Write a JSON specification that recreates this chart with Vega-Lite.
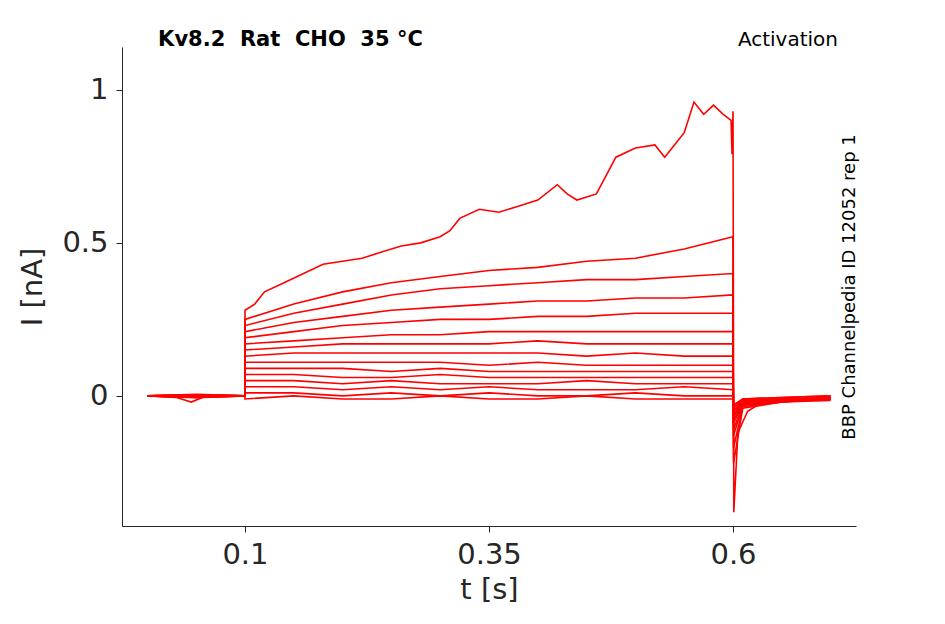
{
  "$schema": "https://vega.github.io/schema/vega-lite/v6.json",
  "width": 734,
  "height": 479,
  "autosize": "none",
  "padding": {"left": 122, "top": 47, "right": 89, "bottom": 98},
  "background": "white",
  "config": {
    "view": {"stroke": null},
    "font": "DejaVu Sans",
    "axis": {
      "domainColor": "#262626", "tickColor": "#262626", "labelColor": "#262626", "titleColor": "#262626",
      "labelFontSize": 29, "titleFontSize": 29, "titleFontWeight": "normal", "grid": false, "tickSize": 6, "labelPadding": 8, "format": "~g"
    }
  },
  "layer": [
    {
      "data": {"values": [
        {"t": 0, "a": 0, "b": 0, "c": 0, "d": 0, "e": 0, "f": 0, "g": 0, "h": 0, "i": 0, "j": 0, "k": 0, "l": 0, "m": 0, "n": 0},
        {"t": 0.05, "a": -0.004, "b": 0.003, "c": -0.002, "d": 0.004, "e": -0.005, "f": 0.002, "g": -0.003, "h": 0.005, "i": -0.002, "j": 0.001, "k": -0.006, "l": 0.003, "m": -0.002, "n": 0.0},
        {"t": 0.0999, "a": 0, "b": 0, "c": 0, "d": 0, "e": 0, "f": 0, "g": 0, "h": 0, "i": 0, "j": 0, "k": 0, "l": 0, "m": 0, "n": 0},
        {"t": 0.1, "a": 0.25, "b": 0.23, "c": 0.21, "d": 0.19, "e": 0.17, "f": 0.15, "g": 0.13, "h": 0.11, "i": 0.09, "j": 0.07, "k": 0.05, "l": 0.03, "m": 0.01, "n": -0.01},
        {"t": 0.15, "a": 0.30, "b": 0.27, "c": 0.24, "d": 0.21, "e": 0.18, "f": 0.16, "g": 0.14, "h": 0.11, "i": 0.09, "j": 0.07, "k": 0.05, "l": 0.03, "m": 0.01, "n": 0.0},
        {"t": 0.2, "a": 0.34, "b": 0.30, "c": 0.26, "d": 0.23, "e": 0.19, "f": 0.17, "g": 0.14, "h": 0.11, "i": 0.09, "j": 0.06, "k": 0.04, "l": 0.02, "m": 0.0, "n": -0.01},
        {"t": 0.25, "a": 0.37, "b": 0.33, "c": 0.28, "d": 0.24, "e": 0.20, "f": 0.17, "g": 0.14, "h": 0.11, "i": 0.08, "j": 0.06, "k": 0.05, "l": 0.03, "m": 0.01, "n": -0.01},
        {"t": 0.3, "a": 0.39, "b": 0.35, "c": 0.29, "d": 0.25, "e": 0.20, "f": 0.17, "g": 0.14, "h": 0.11, "i": 0.09, "j": 0.07, "k": 0.04, "l": 0.02, "m": 0.0, "n": 0.0},
        {"t": 0.35, "a": 0.41, "b": 0.36, "c": 0.30, "d": 0.25, "e": 0.21, "f": 0.17, "g": 0.14, "h": 0.10, "i": 0.08, "j": 0.06, "k": 0.04, "l": 0.03, "m": 0.01, "n": -0.01},
        {"t": 0.4, "a": 0.42, "b": 0.37, "c": 0.31, "d": 0.26, "e": 0.21, "f": 0.18, "g": 0.14, "h": 0.11, "i": 0.08, "j": 0.06, "k": 0.04, "l": 0.02, "m": 0.0, "n": -0.01},
        {"t": 0.45, "a": 0.44, "b": 0.38, "c": 0.31, "d": 0.26, "e": 0.21, "f": 0.17, "g": 0.13, "h": 0.10, "i": 0.08, "j": 0.06, "k": 0.05, "l": 0.02, "m": 0.0, "n": 0.0},
        {"t": 0.5, "a": 0.45, "b": 0.38, "c": 0.32, "d": 0.27, "e": 0.21, "f": 0.17, "g": 0.14, "h": 0.10, "i": 0.08, "j": 0.06, "k": 0.04, "l": 0.02, "m": 0.01, "n": -0.01},
        {"t": 0.55, "a": 0.48, "b": 0.39, "c": 0.32, "d": 0.27, "e": 0.21, "f": 0.17, "g": 0.13, "h": 0.10, "i": 0.08, "j": 0.06, "k": 0.04, "l": 0.03, "m": 0.0, "n": -0.01},
        {"t": 0.5999, "a": 0.52, "b": 0.40, "c": 0.33, "d": 0.27, "e": 0.21, "f": 0.17, "g": 0.13, "h": 0.10, "i": 0.08, "j": 0.06, "k": 0.04, "l": 0.02, "m": 0.0, "n": -0.01},
        {"t": 0.6005, "a": -0.22, "b": -0.17, "c": -0.13, "d": -0.11, "e": -0.09, "f": -0.08, "g": -0.07, "h": -0.06, "i": -0.05, "j": -0.05, "k": -0.04, "l": -0.04, "m": -0.03, "n": -0.03},
        {"t": 0.61, "a": -0.04, "b": -0.035, "c": -0.03, "d": -0.03, "e": -0.025, "f": -0.025, "g": -0.02, "h": -0.02, "i": -0.02, "j": -0.015, "k": -0.015, "l": -0.01, "m": -0.01, "n": -0.01},
        {"t": 0.65, "a": -0.02, "b": -0.02, "c": -0.015, "d": -0.02, "e": -0.01, "f": -0.015, "g": -0.01, "h": -0.02, "i": -0.01, "j": -0.01, "k": -0.015, "l": -0.005, "m": -0.01, "n": -0.005},
        {"t": 0.7, "a": -0.01, "b": -0.015, "c": -0.01, "d": -0.01, "e": -0.005, "f": -0.01, "g": -0.01, "h": -0.005, "i": -0.01, "j": -0.005, "k": -0.01, "l": 0.0, "m": -0.005, "n": 0.0}
      ]},
      "transform": [{"fold": ["a","b","c","d","e","f","g","h","i","j","k","l","m","n"], "as": ["trace", "current"]}],
      "mark": {"type": "line", "color": "#ff0000", "strokeWidth": 1.6},
      "encoding": {
        "x": {"field": "t", "type": "quantitative", "title": "t [s]",
          "scale": {"domain": [-0.026, 0.726], "nice": false},
          "axis": {"values": [0.1, 0.35, 0.6], "titlePadding": 6}},
        "y": {"field": "current", "type": "quantitative", "title": "I [nA]",
          "scale": {"domain": [-0.425, 1.14], "nice": false},
          "axis": {"values": [0, 0.5, 1], "titlePadding": 14}},
        "detail": {"field": "trace"},
        "order": {"field": "t"}
      }
    },
    {
      "data": {"values": [
        {"t": 0, "i": 0}, {"t": 0.03, "i": -0.005}, {"t": 0.045, "i": -0.02}, {"t": 0.06, "i": 0.0}, {"t": 0.0999, "i": 0.0},
        {"t": 0.1, "i": 0.28}, {"t": 0.11, "i": 0.30}, {"t": 0.12, "i": 0.34}, {"t": 0.14, "i": 0.37}, {"t": 0.16, "i": 0.40},
        {"t": 0.18, "i": 0.43}, {"t": 0.2, "i": 0.44}, {"t": 0.22, "i": 0.45}, {"t": 0.24, "i": 0.47}, {"t": 0.26, "i": 0.49},
        {"t": 0.28, "i": 0.50}, {"t": 0.3, "i": 0.52}, {"t": 0.31, "i": 0.54}, {"t": 0.32, "i": 0.58}, {"t": 0.34, "i": 0.61},
        {"t": 0.36, "i": 0.60}, {"t": 0.38, "i": 0.62}, {"t": 0.4, "i": 0.64}, {"t": 0.42, "i": 0.69}, {"t": 0.43, "i": 0.66},
        {"t": 0.44, "i": 0.64}, {"t": 0.46, "i": 0.66}, {"t": 0.47, "i": 0.72}, {"t": 0.48, "i": 0.78}, {"t": 0.5, "i": 0.81},
        {"t": 0.52, "i": 0.82}, {"t": 0.53, "i": 0.78}, {"t": 0.54, "i": 0.82}, {"t": 0.55, "i": 0.86}, {"t": 0.56, "i": 0.96},
        {"t": 0.57, "i": 0.92}, {"t": 0.58, "i": 0.95}, {"t": 0.59, "i": 0.92}, {"t": 0.598, "i": 0.90}, {"t": 0.599, "i": 0.79},
        {"t": 0.6, "i": 0.93}, {"t": 0.6008, "i": -0.38}, {"t": 0.605, "i": -0.12}, {"t": 0.615, "i": -0.05}, {"t": 0.63, "i": -0.02},
        {"t": 0.7, "i": -0.01}
      ]},
      "mark": {"type": "line", "color": "#ff0000", "strokeWidth": 1.6},
      "encoding": {
        "x": {"field": "t", "type": "quantitative"},
        "y": {"field": "i", "type": "quantitative"},
        "order": {"field": "t"}
      }
    },
    {
      "data": {"values": [{"x": 0.011, "y": 1.163, "label": "Kv8.2\u00a0\u00a0Rat\u00a0\u00a0CHO\u00a0\u00a035 °C"}]},
      "mark": {"type": "text", "fontSize": 21, "fontWeight": "bold", "color": "black", "align": "left", "baseline": "middle", "clip": false},
      "encoding": {
        "x": {"field": "x", "type": "quantitative"},
        "y": {"field": "y", "type": "quantitative"},
        "text": {"field": "label"}
      }
    },
    {
      "data": {"values": [{"x": 0.7076, "y": 1.163, "label": "Activation"}]},
      "mark": {"type": "text", "fontSize": 20, "color": "black", "align": "right", "baseline": "middle", "clip": false},
      "encoding": {
        "x": {"field": "x", "type": "quantitative"},
        "y": {"field": "y", "type": "quantitative"},
        "text": {"field": "label"}
      }
    },
    {
      "data": {"values": [{"x": 0.7195, "y": 0.356, "label": "BBP Channelpedia ID 12052 rep 1"}]},
      "mark": {"type": "text", "fontSize": 18, "color": "black", "angle": 270, "align": "center", "baseline": "middle", "clip": false},
      "encoding": {
        "x": {"field": "x", "type": "quantitative"},
        "y": {"field": "y", "type": "quantitative"},
        "text": {"field": "label"}
      }
    }
  ]
}
